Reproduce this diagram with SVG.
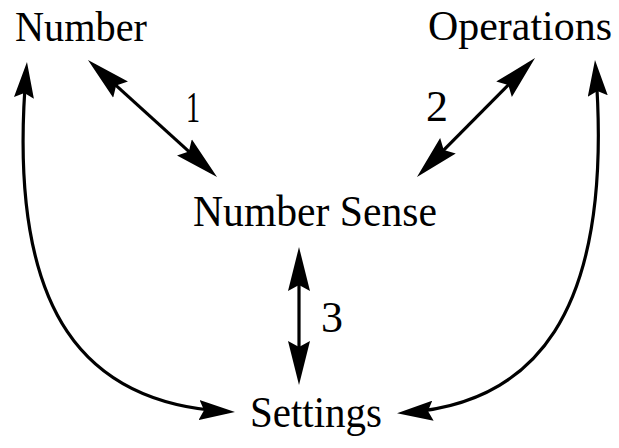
<svg xmlns="http://www.w3.org/2000/svg" width="619" height="448" viewBox="0 0 619 448">
<style>
  .lbl { font-family: "Liberation Serif", "Times New Roman", serif; fill: #000; }
  .num { font-family: "Liberation Serif", "Times New Roman", serif; fill: #000; font-size: 44px; }
  .conn { fill: none; stroke: #000; stroke-width: 3.2; }
</style>
<defs>
  <marker id="hs" viewBox="0 0 44 24" refX="36" refY="12" markerWidth="44" markerHeight="24" markerUnits="userSpaceOnUse" orient="auto-start-reverse">
    <path d="M0,1 L44,12 L0,23 L6,12 z" fill="#000"/>
  </marker>
  <marker id="hc" viewBox="0 0 36 20" refX="28" refY="10" markerWidth="36" markerHeight="20" markerUnits="userSpaceOnUse" orient="auto-start-reverse">
    <path d="M0,0 L36,10 L0,20 L5,10 z" fill="#000"/>
  </marker>
</defs>
<rect width="619" height="448" fill="#fff"/>
<g id="node-number"><text class="lbl" x="15" y="41" font-size="43" textLength="132" lengthAdjust="spacingAndGlyphs">Number</text></g>
<g id="node-operations"><text class="lbl" x="428" y="40" font-size="42" textLength="184" lengthAdjust="spacingAndGlyphs">Operations</text></g>
<g id="node-number-sense"><text class="lbl" x="193" y="226" font-size="45" textLength="244" lengthAdjust="spacingAndGlyphs">Number Sense</text></g>
<g id="node-settings"><text class="lbl" x="250" y="427" font-size="45" textLength="132" lengthAdjust="spacingAndGlyphs">Settings</text></g>
<g id="connectors">
  <line class="conn" x1="93.9" y1="65.4" x2="211.1" y2="171.6" marker-start="url(#hs)" marker-end="url(#hs)"/>
  <line class="conn" x1="529.4" y1="63.7" x2="422.6" y2="171.3" marker-start="url(#hs)" marker-end="url(#hs)"/>
  <line class="conn" x1="299" y1="255" x2="299" y2="377" marker-start="url(#hs)" marker-end="url(#hs)"/>
  <path class="conn" d="M227,411.6 C90,404 5,320 26.3,70" marker-start="url(#hc)" marker-end="url(#hc)"/>
  <path class="conn" d="M405,412.6 C530,404 615,320 595.6,68" marker-start="url(#hc)" marker-end="url(#hc)"/>
  <text class="num" x="186" y="122" textLength="14" lengthAdjust="spacingAndGlyphs">1</text>
  <text class="num" x="426" y="121">2</text>
  <text class="num" x="321" y="332">3</text>
</g>
</svg>
